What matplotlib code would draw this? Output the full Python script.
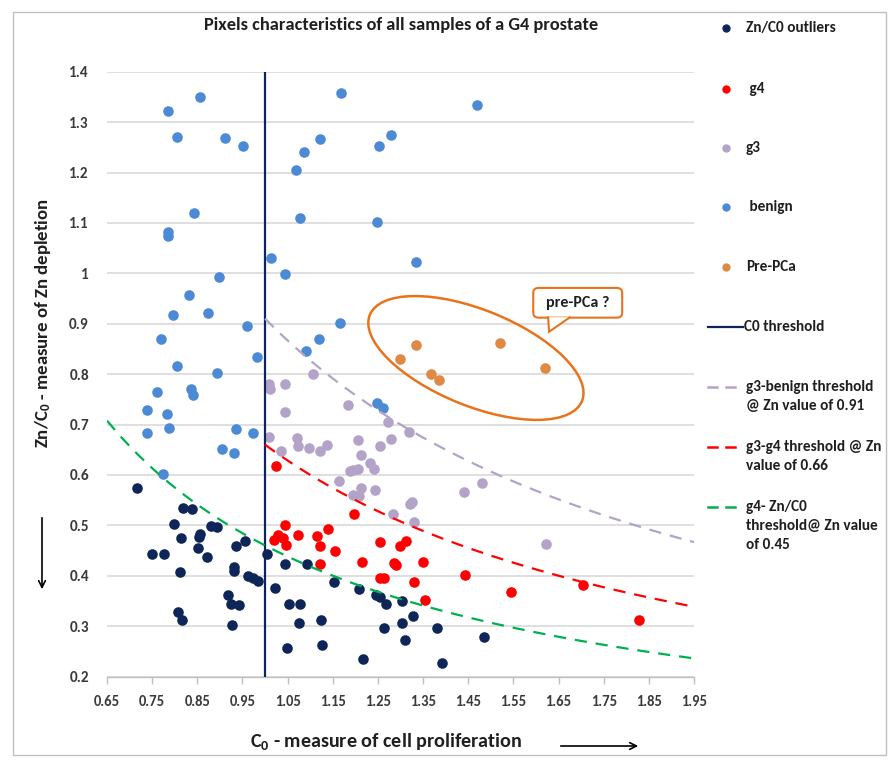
import numpy as np
import matplotlib
matplotlib.use("Agg")
import matplotlib.pyplot as plt
from matplotlib.lines import Line2D
from matplotlib.patches import Ellipse, FancyBboxPatch, Polygon, Rectangle, FancyArrowPatch
from matplotlib.transforms import ScaledTranslation

plt.rcParams['font.family'] = ['Carlito', 'DejaVu Sans']
plt.rcParams['mathtext.fontset'] = 'custom'
plt.rcParams['mathtext.rm'] = 'Carlito'
plt.rcParams['mathtext.bf'] = 'Carlito:bold'
plt.rcParams['mathtext.default'] = 'bf'

# ---------------- data ----------------
outlier_x = [0.716, 0.819, 0.838, 0.798, 0.814, 0.856, 0.854, 0.880, 0.893, 0.749, 0.776, 0.852,
             0.872, 0.812, 0.935, 0.956, 0.931, 0.931, 0.963, 0.974, 0.985, 1.004, 0.919, 0.924,
             0.943, 0.808, 0.817, 0.927, 1.021, 1.044, 1.094, 1.052, 1.078, 1.076, 1.123, 1.049,
             1.126, 1.153, 1.207, 1.246, 1.255, 1.268, 1.303, 1.263, 1.303, 1.328, 1.311, 1.218,
             1.381, 1.392, 1.484]
outlier_y = [0.575, 0.534, 0.532, 0.503, 0.475, 0.483, 0.477, 0.498, 0.497, 0.444, 0.444, 0.454,
             0.437, 0.408, 0.459, 0.469, 0.417, 0.409, 0.399, 0.395, 0.389, 0.444, 0.361, 0.343,
             0.342, 0.328, 0.312, 0.302, 0.376, 0.424, 0.424, 0.344, 0.344, 0.307, 0.313, 0.257,
             0.263, 0.387, 0.374, 0.362, 0.357, 0.344, 0.350, 0.297, 0.307, 0.321, 0.272, 0.235,
             0.297, 0.227, 0.279]

g4_x = [1.024, 1.197, 1.044, 1.020, 1.029, 1.039, 1.046, 1.073, 1.116, 1.140, 1.122, 1.156,
        1.122, 1.214, 1.254, 1.299, 1.312, 1.286, 1.289, 1.255, 1.263, 1.330, 1.349, 1.354,
        1.443, 1.545, 1.704, 1.828]
g4_y = [0.618, 0.522, 0.500, 0.470, 0.481, 0.475, 0.460, 0.481, 0.479, 0.493, 0.459, 0.449,
        0.424, 0.427, 0.467, 0.458, 0.469, 0.426, 0.422, 0.395, 0.396, 0.387, 0.427, 0.352,
        0.402, 0.368, 0.382, 0.313]

g3_x = [1.107, 1.008, 1.010, 1.045, 1.045, 1.183, 1.009, 1.035, 1.071, 1.072, 1.098, 1.121,
        1.137, 1.205, 1.272, 1.318, 1.278, 1.255, 1.213, 1.163, 1.188, 1.195, 1.205, 1.232,
        1.241, 1.212, 1.244, 1.195, 1.208, 1.283, 1.322, 1.326, 1.329, 1.441, 1.480, 1.622]
g3_y = [0.800, 0.780, 0.770, 0.780, 0.725, 0.738, 0.675, 0.648, 0.674, 0.658, 0.653, 0.648,
        0.660, 0.669, 0.705, 0.685, 0.671, 0.657, 0.639, 0.588, 0.607, 0.610, 0.612, 0.623,
        0.611, 0.574, 0.571, 0.561, 0.559, 0.522, 0.542, 0.546, 0.506, 0.567, 0.583, 0.463]

benign_x = [0.785, 0.855, 0.804, 0.911, 0.951, 1.169, 1.069, 1.086, 1.121, 1.253, 1.278, 0.842,
            0.785, 0.784, 1.078, 1.249, 1.014, 1.045, 1.334, 0.897, 0.832, 0.796, 0.873, 0.959,
            1.165, 0.770, 1.119, 1.091, 0.982, 0.806, 0.894, 0.739, 0.761, 0.835, 0.841, 0.739,
            0.782, 0.787, 0.936, 0.974, 0.905, 0.931, 0.775, 1.248, 1.261, 1.469]
benign_y = [1.323, 1.350, 1.271, 1.268, 1.253, 1.357, 1.204, 1.241, 1.266, 1.253, 1.275, 1.119,
            1.081, 1.075, 1.110, 1.102, 1.031, 0.999, 1.023, 0.993, 0.956, 0.917, 0.922, 0.895,
            0.901, 0.870, 0.870, 0.846, 0.833, 0.816, 0.803, 0.729, 0.765, 0.770, 0.758, 0.683,
            0.720, 0.694, 0.691, 0.683, 0.651, 0.644, 0.602, 0.743, 0.732, 1.333]

prepca_x = [1.299, 1.335, 1.368, 1.386, 1.520, 1.620]
prepca_y = [0.829, 0.858, 0.800, 0.788, 0.862, 0.813]

c0_threshold = 1.0
# threshold curves  Zn/C0 = k / C0
thr_g3_benign = 0.91
thr_g3_g4 = 0.66
thr_g4_out = 0.46
xticks = [0.65, 0.75, 0.85, 0.95, 1.05, 1.15, 1.25, 1.35, 1.45, 1.55, 1.65, 1.75, 1.85, 1.95]
yticks = [0.2, 0.3, 0.4, 0.5, 0.6, 0.7, 0.8, 0.9, 1.0, 1.1, 1.2, 1.3, 1.4]
ytick_labels = ['0.2', '0.3', '0.4', '0.5', '0.6', '0.7', '0.8', '0.9', '1', '1.1', '1.2', '1.3', '1.4']

# ---------------- style ----------------
C_NAVY = '#0e2657'
C_RED = '#ff0000'
C_LAV = '#b3a3c9'
C_BEN = '#4d8ad6'
C_PRE = '#de8a45'
C_ORG = '#e8731d'
C_GRN = '#00b050'
TXT = '#1f1f1f'

W, H = 892, 765
fig = plt.figure(figsize=(W / 100, H / 100), dpi=100)
ax = fig.add_axes([107 / W, 1 - 676.5 / H, (694 - 107) / W, (676.5 - 71.7) / H])

ax.set_xlim(0.65, 1.95)
ax.set_ylim(0.2, 1.4)
ax.set_xticks(xticks)
ax.set_xticklabels([f'{v:.2f}' for v in xticks])
ax.set_yticks(yticks)
ax.set_yticklabels(ytick_labels)
for s in ['left', 'right', 'top']:
    ax.spines[s].set_visible(False)
ax.spines['bottom'].set_color('#bfbfbf')
ax.spines['bottom'].set_linewidth(1.0)
ax.tick_params(axis='x', direction='out', length=5, color='#bfbfbf', width=1.0,
               labelsize=10.5, labelcolor='#3a3a3a', pad=8)
ax.tick_params(axis='y', length=0, labelsize=11, labelcolor='#3a3a3a', pad=13)
for lab in ax.get_xticklabels() + ax.get_yticklabels():
    lab.set_fontweight('bold')
ax.yaxis.grid(True, color='#d6d6d6', linewidth=1.1)
ax.set_axisbelow(True)

ms = 58
ax.scatter(outlier_x, outlier_y, s=ms, color=C_NAVY, zorder=3, linewidths=0)
ax.scatter(g4_x, g4_y, s=ms, color=C_RED, zorder=3, linewidths=0)
ax.scatter(g3_x, g3_y, s=ms, color=C_LAV, zorder=3, linewidths=0)
ax.scatter(benign_x, benign_y, s=ms, color=C_BEN, zorder=3, linewidths=0)
ax.scatter(prepca_x, prepca_y, s=ms, color=C_PRE, zorder=3, linewidths=0)

ax.plot([c0_threshold, c0_threshold], [0.2, 1.4], color=C_NAVY, lw=1.6, zorder=4)
xs1 = np.linspace(c0_threshold, 1.95, 100)
xs2 = np.linspace(0.65, 1.95, 150)
dash = (0, (5.5, 4.0))
ax.plot(xs1, thr_g3_benign / xs1, color=C_LAV, lw=1.6, linestyle=dash, zorder=4)
ax.plot(xs1, thr_g3_g4 / xs1, color=C_RED, lw=1.6, linestyle=dash, zorder=4)
ax.plot(xs2, thr_g4_out / xs2, color=C_GRN, lw=1.6, linestyle=dash, zorder=4)

# ellipse around pre-PCa points (size defined in inches)
ell = Ellipse((0, 0), 2.29, 0.96, angle=-22.1, fill=False, edgecolor=C_ORG, lw=1.8,
              transform=fig.dpi_scale_trans + ScaledTranslation(1.467, 0.832, ax.transData),
              zorder=5)
ax.add_patch(ell)

# callout
box = FancyBboxPatch((1.594, 0.912), 0.197, 0.059,
                     boxstyle='round,pad=0,rounding_size=0.012', mutation_aspect=0.83,
                     facecolor='white', edgecolor=C_ORG, lw=1.5, zorder=6)
ax.add_patch(box)
tail = Polygon([(1.628, 0.913), (1.629, 0.884), (1.674, 0.913)], closed=True,
               facecolor='white', edgecolor='none', zorder=7)
ax.add_patch(tail)
ax.plot([1.627, 1.629, 1.675], [0.9125, 0.884, 0.9125], color=C_ORG, lw=1.5, zorder=7,
        solid_joinstyle='miter')
ax.text(1.6925, 0.9415, 'pre-PCa ?', ha='center', va='center', fontsize=11.5,
        fontweight='bold', color=TXT, zorder=8)

# titles and labels
fig.text(401 / W, 1 - 25 / H, 'Pixels characteristics of all samples of a G4 prostate',
         ha='center', va='center', fontsize=13.2, fontweight='bold', color=TXT)
fig.text(386 / W, 1 - 742 / H, r'C$_0$ - measure of cell proliferation',
         ha='center', va='center', fontsize=14.5, fontweight='bold', color=TXT)
fig.text(43 / W, 1 - 323 / H, r'Zn/C$_0$ - measure of Zn depletion',
         ha='center', va='center', rotation=90, fontsize=13.5, fontweight='bold', color=TXT)

fig.add_artist(FancyArrowPatch((558, H - 746), (641, H - 746),
               transform=None, arrowstyle='->', mutation_scale=12, lw=1.2, color='black'))
fig.add_artist(FancyArrowPatch((42, H - 515), (42, H - 592),
               transform=None, arrowstyle='->', mutation_scale=12, lw=1.2, color='black'))

# manual legend
def fx(px):
    return px / W

def fy(py):
    return 1 - py / H

leg_items = [
    ('marker', C_NAVY, ['Zn/C0 outliers'], 28),
    ('marker', C_RED, [' g4'], 89),
    ('marker', C_LAV, ['g3'], 148),
    ('marker', C_BEN, [' benign'], 207),
    ('marker', C_PRE, ['Pre-PCa'], 267),
    ('solid', C_NAVY, ['C0 threshold'], 327),
    ('dash', C_LAV, ['g3-benign threshold', '@ Zn value of 0.91'], 387),
    ('dash', C_RED, ['g3-g4 threshold @ Zn', 'value of 0.66'], 447),
    ('dash', C_GRN, ['g4- Zn/C0', 'threshold@ Zn value', 'of 0.45'], 507),
]
for kind, col, lines, y0 in leg_items:
    if kind == 'marker':
        fig.add_artist(Line2D([fx(726)], [fy(y0)], marker='o', markersize=6,
                              color=col, markeredgewidth=0, linestyle='none'))
    elif kind == 'solid':
        fig.add_artist(Line2D([fx(708), fx(743)], [fy(y0), fy(y0)], color=col, lw=1.6))
    else:
        fig.add_artist(Line2D([fx(708), fx(717)], [fy(y0), fy(y0)], color=col, lw=1.8))
        fig.add_artist(Line2D([fx(726), fx(735)], [fy(y0), fy(y0)], color=col, lw=1.8))
    for i, t in enumerate(lines):
        fig.text(fx(746 if kind != 'solid' else 744), fy(y0 + 19 * i), t, ha='left',
                 va='center', fontsize=11, fontweight='bold', color=TXT)

# outer chart border
fig.add_artist(Rectangle((13 / W, 1 - 755 / H), (886 - 13) / W, (755 - 12) / H,
                         transform=fig.transFigure, fill=False, edgecolor='#bfbfbf', lw=1.0))

fig.savefig('out.png', dpi=100)
